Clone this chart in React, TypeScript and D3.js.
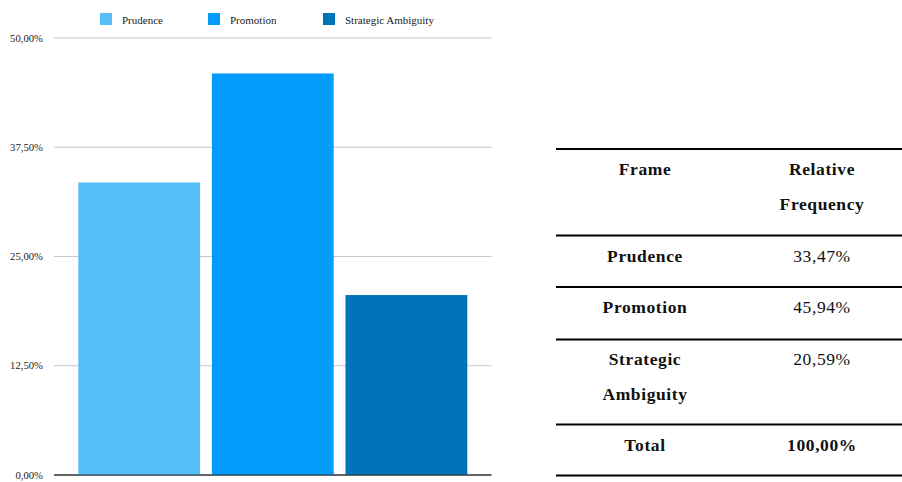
import React from "react";
import * as d3 from "d3";

const categories = ["Prudence", "Promotion", "Strategic Ambiguity"];
const values = [33.47, 45.94, 20.59];
const colors = ["#56BFF9", "#049CFA", "#0074B8"];
const yTicks = [0, 12.5, 25, 37.5, 50];
const tableHeader = ["Frame", ["Relative", "Frequency"]];
const tableRows: { frame: string[]; value: string; bold?: boolean }[] = [
  { frame: ["Prudence"], value: "33,47%" },
  { frame: ["Promotion"], value: "45,94%" },
  { frame: ["Strategic", "Ambiguity"], value: "20,59%" },
  { frame: ["Total"], value: "100,00%", bold: true },
];

const FONT = "'Liberation Serif', 'Times New Roman', serif";

export default function App() {
  const W = 902, H = 482;
  const y = d3.scaleLinear().domain([0, 50]).range([475, 38]);
  const x = d3.scaleBand<string>().domain(categories).range([78.3, 467.3]).paddingInner(0.088).paddingOuter(0);
  const fmt = (v: number) => v.toFixed(2).replace(".", ",") + "%";

  const legendX = [100, 208, 323];

  const tL = 556, tR = 902;
  const c1 = 645, c2 = 822;
  const lines = [149, 235.5, 287, 339.5, 424.5, 475.5];
  const rowBaselines = [[262], [313], [365, 400], [451]];
  const ls = 0.6;

  return (
    <svg width={W} height={H} style={{ position: "absolute", left: 0, top: 0, background: "#fff" }} fontFamily={FONT}>
      {yTicks.map((t) => (
        <g key={t}>
          <line x1={54} x2={491.5} y1={y(t)} y2={y(t)} stroke={t === 0 ? "#333" : "#c6c6c6"} strokeWidth={1} />
          <text x={43} y={y(t)} dy="0.35em" textAnchor="end" fontSize={10.7} fill="#222">{fmt(t)}</text>
        </g>
      ))}
      {categories.map((c, i) => (
        <rect key={c} x={x(c)} y={y(values[i])} width={x.bandwidth()} height={y(0) - y(values[i])} fill={colors[i]} />
      ))}
      <line x1={54} x2={491.5} y1={y(0)} y2={y(0)} stroke="#333" strokeWidth={1} />
      {categories.map((c, i) => (
        <g key={c}>
          <rect x={legendX[i]} y={13} width={12} height={12} fill={colors[i]} />
          <text x={legendX[i] + 22} y={23.5} fontSize={11} fill="#222">{c}</text>
        </g>
      ))}
      {lines.map((ly, i) => (
        <line key={i} x1={tL} x2={tR} y1={ly} y2={ly} stroke="#000" strokeWidth={2} />
      ))}
      <text x={c1} y={175} textAnchor="middle" fontSize={17.5} letterSpacing={ls} fontWeight="bold" fill="#111">{tableHeader[0] as string}</text>
      {(tableHeader[1] as string[]).map((t, i) => (
        <text key={t} x={c2} y={175 + i * 35} textAnchor="middle" fontSize={17.5} letterSpacing={ls} fontWeight="bold" fill="#111">{t}</text>
      ))}
      {tableRows.map((r, i) => (
        <g key={i}>
          {r.frame.map((f, j) => (
            <text key={f} x={c1} y={rowBaselines[i][j]} textAnchor="middle" fontSize={17.5} letterSpacing={ls} fontWeight="bold" fill="#111">{f}</text>
          ))}
          <text x={c2} y={rowBaselines[i][0]} textAnchor="middle" fontSize={17.5} letterSpacing={ls} fontWeight={r.bold ? "bold" : "normal"} fill="#111">{r.value}</text>
        </g>
      ))}
    </svg>
  );
}
